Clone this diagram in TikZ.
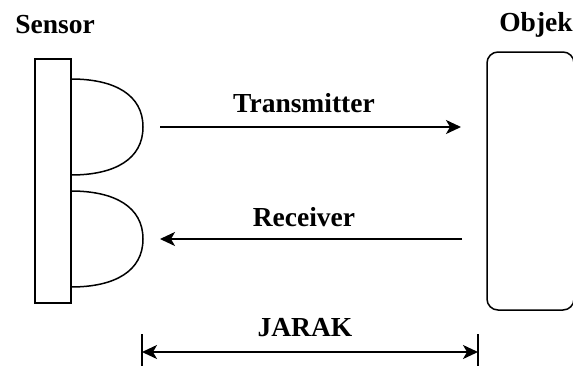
\documentclass[tikz,border=0pt]{standalone}
\usepackage{fontspec}
\setmainfont{Liberation Serif}
\usetikzlibrary{arrows.meta}
\begin{document}
\begin{tikzpicture}[x=1pt,y=-1pt,
  line width=1.8pt,
  lbl/.style={font=\bfseries\fontsize{27.5}{32}\selectfont, inner sep=0pt, anchor=center},
  tip/.tip={Stealth[length=15pt,width=14pt,inset=4pt]},
  ray/.style={-tip},
  dome/.style={line width=1.5pt}]
\useasboundingbox (0,0) rectangle (573,365);
% labels
\node[lbl] (sensorlbl) at (55,25) {Sensor};
\node[lbl] (objeklbl) at (536,25) {Objek};
% sensor body with transmitter and receiver domes
\node[draw, line width=1.5pt, minimum width=36pt, minimum height=244pt, inner sep=0pt] (sensor) at (53,181) {};
\draw[dome] (71,79) .. controls (115,79) and (143,95) .. (143,127) .. controls (143,159) and (115,175) .. (71,175);
\draw[dome] (71,191) .. controls (115,191) and (143,207) .. (143,239) .. controls (143,271) and (115,287) .. (71,287);
% object
\draw[line width=1.5pt, rounded corners=11pt] (487,52) rectangle (574,310);
% rays
\coordinate (txA) at (160,127);
\coordinate (txB) at (461,127);
\coordinate (rxA) at (462,239);
\coordinate (rxB) at (160,239);
\draw[ray] (txA) -- (txB);
\node[lbl] (txlbl) at (304,103) {Transmitter};
\draw[ray] (rxA) -- (rxB);
\node[lbl] (rxlbl) at (304,217) {Receiver};
% distance
\coordinate (d1t) at (142,334);
\coordinate (d1b) at (142,366);
\coordinate (d2t) at (478,334);
\coordinate (d2b) at (478,366);
\coordinate (d1m) at (142,352);
\coordinate (d2m) at (478,352);
\draw[line width=1.3pt] (d1t) -- (d1b);
\draw[line width=1.3pt] (d2t) -- (d2b);
\draw[tip-tip] (d1m) -- (d2m);
\node[lbl] (jaraklbl) at (305,328) {JARAK};
\end{tikzpicture}
\end{document}
